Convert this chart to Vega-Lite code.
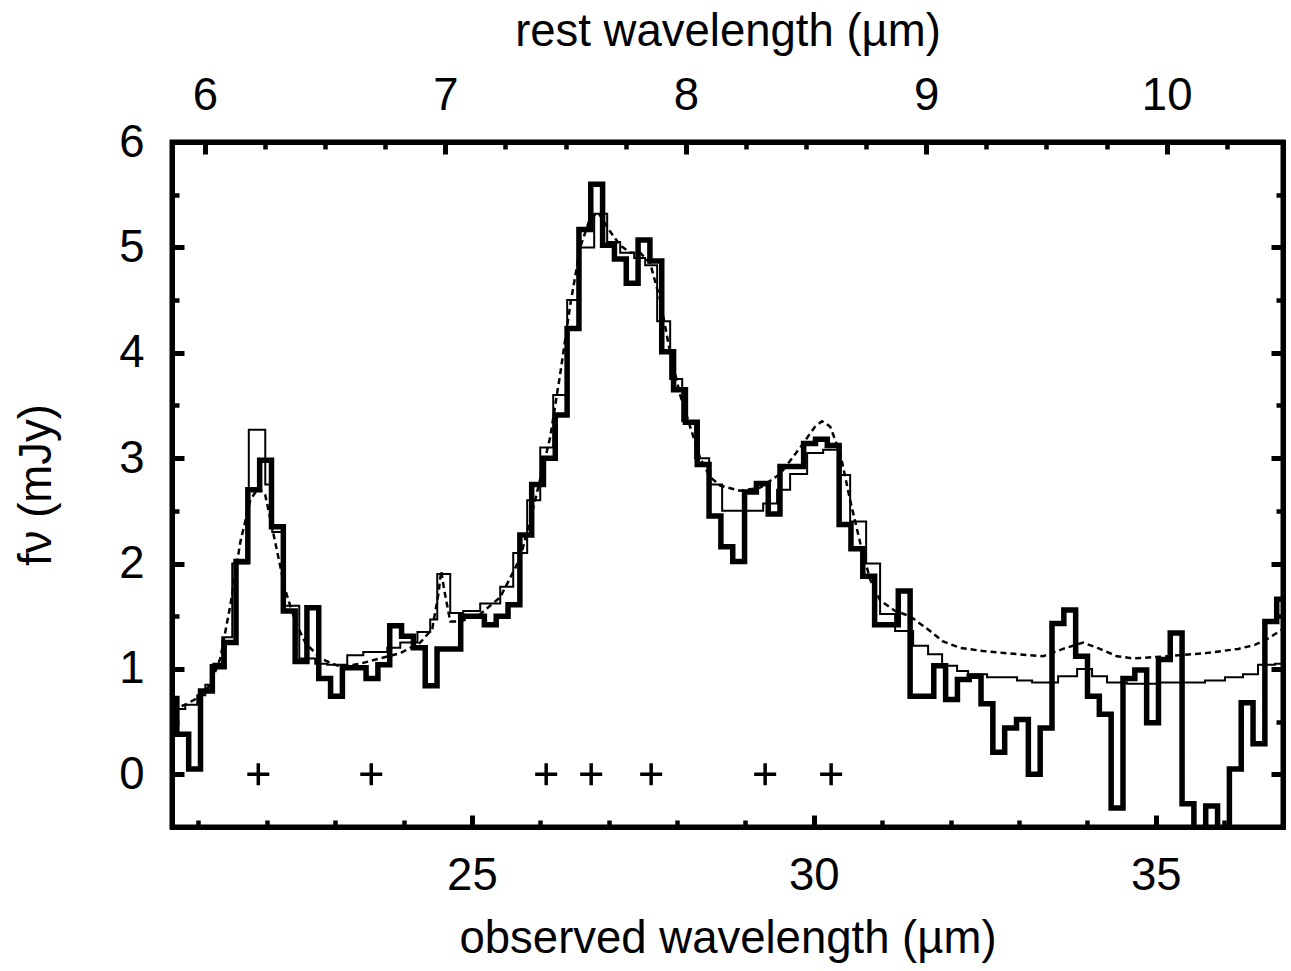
{
  "$schema": "https://vega.github.io/schema/vega-lite/v6.json",
  "width": 1111,
  "height": 685,
  "autosize": {"type": "none"},
  "padding": {"left": 172, "top": 142, "right": 8, "bottom": 144},
  "background": "white",
  "view": {"stroke": "black", "strokeWidth": 5},
  "config": {
    "view": {"stroke": "black", "strokeWidth": 5},
    "axis": {
      "domain": false,
      "grid": false,
      "tickColor": "black",
      "labelColor": "black",
      "titleColor": "black",
      "domainColor": "black",
      "domainWidth": 5,
      "domainCap": "square",
      "labelFont": "Liberation Sans",
      "titleFont": "Liberation Sans",
      "labelFontSize": 45.5,
      "titleFontSize": 45.5,
      "titleFontWeight": "normal"
    }
  },
  "datasets": {
    "thick": [
      {"w": 20.614, "f": 0.72}, {"w": 20.685, "f": 0.38}, {"w": 20.858, "f": 0.05}, {"w": 21.031, "f": 0.79},
      {"w": 21.204, "f": 1.02}, {"w": 21.377, "f": 1.25}, {"w": 21.55, "f": 2.02}, {"w": 21.723, "f": 2.7},
      {"w": 21.896, "f": 2.98}, {"w": 22.069, "f": 2.35}, {"w": 22.242, "f": 1.55}, {"w": 22.415, "f": 1.07},
      {"w": 22.587, "f": 1.58}, {"w": 22.76, "f": 0.91}, {"w": 22.933, "f": 0.74}, {"w": 23.106, "f": 1.01},
      {"w": 23.279, "f": 1.01}, {"w": 23.452, "f": 0.91}, {"w": 23.625, "f": 1.04}, {"w": 23.798, "f": 1.41},
      {"w": 23.971, "f": 1.31}, {"w": 24.144, "f": 1.2}, {"w": 24.317, "f": 0.84}, {"w": 24.49, "f": 1.19},
      {"w": 24.663, "f": 1.19}, {"w": 24.836, "f": 1.5}, {"w": 25.009, "f": 1.5}, {"w": 25.182, "f": 1.42},
      {"w": 25.355, "f": 1.5}, {"w": 25.528, "f": 1.61}, {"w": 25.701, "f": 2.27}, {"w": 25.874, "f": 2.75},
      {"w": 26.046, "f": 3.0}, {"w": 26.219, "f": 3.41}, {"w": 26.392, "f": 4.23}, {"w": 26.565, "f": 5.17},
      {"w": 26.738, "f": 5.6}, {"w": 26.911, "f": 5.02}, {"w": 27.084, "f": 4.89}, {"w": 27.257, "f": 4.66},
      {"w": 27.43, "f": 5.07}, {"w": 27.603, "f": 4.87}, {"w": 27.776, "f": 4.01}, {"w": 27.949, "f": 3.65},
      {"w": 28.122, "f": 3.34}, {"w": 28.295, "f": 2.94}, {"w": 28.468, "f": 2.45}, {"w": 28.641, "f": 2.16},
      {"w": 28.814, "f": 2.02}, {"w": 28.987, "f": 2.68}, {"w": 29.16, "f": 2.76}, {"w": 29.333, "f": 2.47},
      {"w": 29.505, "f": 2.92}, {"w": 29.678, "f": 2.92}, {"w": 29.851, "f": 3.14}, {"w": 30.024, "f": 3.18},
      {"w": 30.197, "f": 3.12}, {"w": 30.37, "f": 2.37}, {"w": 30.543, "f": 2.14}, {"w": 30.716, "f": 1.88},
      {"w": 30.889, "f": 1.42}, {"w": 31.062, "f": 1.42}, {"w": 31.235, "f": 1.74}, {"w": 31.408, "f": 0.74},
      {"w": 31.581, "f": 0.74}, {"w": 31.754, "f": 1.03}, {"w": 31.927, "f": 0.71}, {"w": 32.1, "f": 0.9},
      {"w": 32.272, "f": 0.93}, {"w": 32.445, "f": 0.67}, {"w": 32.618, "f": 0.21}, {"w": 32.791, "f": 0.44},
      {"w": 32.964, "f": 0.52}, {"w": 33.137, "f": 0.0}, {"w": 33.31, "f": 0.44}, {"w": 33.483, "f": 1.43},
      {"w": 33.656, "f": 1.56}, {"w": 33.829, "f": 1.12}, {"w": 34.002, "f": 0.74}, {"w": 34.175, "f": 0.57},
      {"w": 34.348, "f": -0.32}, {"w": 34.521, "f": 0.91}, {"w": 34.694, "f": 0.99}, {"w": 34.867, "f": 0.49},
      {"w": 35.04, "f": 1.09}, {"w": 35.212, "f": 1.34}, {"w": 35.385, "f": -0.28}, {"w": 35.558, "f": -0.6},
      {"w": 35.731, "f": -0.3}, {"w": 35.904, "f": -0.6}, {"w": 36.077, "f": 0.05}, {"w": 36.25, "f": 0.68},
      {"w": 36.423, "f": 0.29}, {"w": 36.596, "f": 1.45}, {"w": 36.769, "f": 1.66}, {"w": 36.861, "f": 1.66}
    ],
    "thin": [
      {"w": 20.614, "f": 0.62}, {"w": 20.808, "f": 0.66}, {"w": 20.984, "f": 0.75}, {"w": 21.101, "f": 0.85},
      {"w": 21.218, "f": 1.05}, {"w": 21.349, "f": 1.3}, {"w": 21.495, "f": 2.0}, {"w": 21.737, "f": 3.27},
      {"w": 21.978, "f": 2.75}, {"w": 22.08, "f": 2.3}, {"w": 22.241, "f": 1.6}, {"w": 22.475, "f": 1.1},
      {"w": 22.709, "f": 1.05}, {"w": 22.885, "f": 1.04}, {"w": 23.177, "f": 1.13}, {"w": 23.411, "f": 1.16},
      {"w": 23.762, "f": 1.2}, {"w": 23.952, "f": 1.25}, {"w": 24.203, "f": 1.35}, {"w": 24.39, "f": 1.47},
      {"w": 24.493, "f": 1.9}, {"w": 24.683, "f": 1.53}, {"w": 24.873, "f": 1.55}, {"w": 25.121, "f": 1.62},
      {"w": 25.414, "f": 1.78}, {"w": 25.604, "f": 2.1}, {"w": 25.808, "f": 2.6}, {"w": 25.999, "f": 3.1},
      {"w": 26.189, "f": 3.6}, {"w": 26.393, "f": 4.5}, {"w": 26.583, "f": 5.0}, {"w": 26.788, "f": 5.32},
      {"w": 26.978, "f": 5.05}, {"w": 27.168, "f": 4.95}, {"w": 27.373, "f": 4.9}, {"w": 27.534, "f": 4.83},
      {"w": 27.709, "f": 4.3}, {"w": 27.899, "f": 3.75}, {"w": 28.075, "f": 3.35}, {"w": 28.265, "f": 3.0},
      {"w": 28.469, "f": 2.75}, {"w": 28.659, "f": 2.5}, {"w": 28.864, "f": 2.5}, {"w": 29.069, "f": 2.5},
      {"w": 29.259, "f": 2.57}, {"w": 29.463, "f": 2.7}, {"w": 29.653, "f": 2.85}, {"w": 29.902, "f": 3.05},
      {"w": 30.136, "f": 3.08}, {"w": 30.355, "f": 2.84}, {"w": 30.531, "f": 2.4}, {"w": 30.765, "f": 2.0},
      {"w": 30.969, "f": 1.52}, {"w": 31.189, "f": 1.36}, {"w": 31.452, "f": 1.22}, {"w": 31.671, "f": 1.14},
      {"w": 31.876, "f": 1.03}, {"w": 32.095, "f": 0.98}, {"w": 32.256, "f": 0.95}, {"w": 32.534, "f": 0.92},
      {"w": 32.972, "f": 0.89}, {"w": 33.192, "f": 0.87}, {"w": 33.572, "f": 0.93}, {"w": 33.85, "f": 1.0},
      {"w": 34.069, "f": 0.93}, {"w": 34.288, "f": 0.87}, {"w": 34.58, "f": 0.86}, {"w": 35.063, "f": 0.87},
      {"w": 35.399, "f": 0.87}, {"w": 35.721, "f": 0.89}, {"w": 36.013, "f": 0.92}, {"w": 36.276, "f": 0.95},
      {"w": 36.496, "f": 1.04}, {"w": 36.744, "f": 1.05}, {"w": 36.861, "f": 1.05}
    ],
    "model": [
      {"w": 20.614, "f": 0.62}, {"w": 20.808, "f": 0.66}, {"w": 21.028, "f": 0.74}, {"w": 21.174, "f": 0.85},
      {"w": 21.32, "f": 1.1}, {"w": 21.466, "f": 1.6}, {"w": 21.612, "f": 2.2}, {"w": 21.758, "f": 2.6},
      {"w": 21.876, "f": 2.72}, {"w": 21.978, "f": 2.65}, {"w": 22.124, "f": 2.2}, {"w": 22.27, "f": 1.75},
      {"w": 22.416, "f": 1.45}, {"w": 22.563, "f": 1.25}, {"w": 22.782, "f": 1.1}, {"w": 23.074, "f": 1.02},
      {"w": 23.367, "f": 1.05}, {"w": 23.659, "f": 1.1}, {"w": 23.952, "f": 1.15}, {"w": 24.244, "f": 1.25},
      {"w": 24.42, "f": 1.38}, {"w": 24.507, "f": 1.7}, {"w": 24.551, "f": 1.93}, {"w": 24.595, "f": 1.75},
      {"w": 24.683, "f": 1.45}, {"w": 24.829, "f": 1.45}, {"w": 25.121, "f": 1.52}, {"w": 25.414, "f": 1.68},
      {"w": 25.706, "f": 2.05}, {"w": 25.925, "f": 2.6}, {"w": 26.145, "f": 3.2}, {"w": 26.291, "f": 3.8},
      {"w": 26.437, "f": 4.45}, {"w": 26.583, "f": 5.0}, {"w": 26.73, "f": 5.28}, {"w": 26.847, "f": 5.33},
      {"w": 27.022, "f": 5.15}, {"w": 27.168, "f": 5.02}, {"w": 27.314, "f": 4.95}, {"w": 27.461, "f": 4.95},
      {"w": 27.607, "f": 4.85}, {"w": 27.753, "f": 4.5}, {"w": 27.899, "f": 4.0}, {"w": 28.045, "f": 3.6},
      {"w": 28.191, "f": 3.3}, {"w": 28.338, "f": 3.0}, {"w": 28.484, "f": 2.82}, {"w": 28.63, "f": 2.74},
      {"w": 28.922, "f": 2.69}, {"w": 29.215, "f": 2.72}, {"w": 29.507, "f": 2.85}, {"w": 29.8, "f": 3.1},
      {"w": 30.019, "f": 3.3}, {"w": 30.121, "f": 3.35}, {"w": 30.238, "f": 3.3}, {"w": 30.385, "f": 3.05},
      {"w": 30.531, "f": 2.6}, {"w": 30.677, "f": 2.2}, {"w": 30.823, "f": 1.85}, {"w": 30.969, "f": 1.65},
      {"w": 31.189, "f": 1.55}, {"w": 31.408, "f": 1.5}, {"w": 31.7, "f": 1.36}, {"w": 31.89, "f": 1.26},
      {"w": 32.139, "f": 1.2}, {"w": 32.475, "f": 1.17}, {"w": 32.972, "f": 1.14}, {"w": 33.352, "f": 1.12},
      {"w": 33.644, "f": 1.19}, {"w": 33.937, "f": 1.25}, {"w": 34.185, "f": 1.19}, {"w": 34.434, "f": 1.12},
      {"w": 34.668, "f": 1.1}, {"w": 35.165, "f": 1.12}, {"w": 35.728, "f": 1.15}, {"w": 36.208, "f": 1.19},
      {"w": 36.456, "f": 1.23}, {"w": 36.646, "f": 1.29}, {"w": 36.861, "f": 1.38}
    ],
    "pah": [
      {"w": 21.876, "f": 0}, {"w": 23.528, "f": 0}, {"w": 26.086, "f": 0}, {"w": 26.744, "f": 0},
      {"w": 27.621, "f": 0}, {"w": 29.288, "f": 0}, {"w": 30.253, "f": 0}
    ]
  },
  "layer": [
    {
      "mark": {"type": "rule", "stroke": "black", "strokeWidth": 2, "strokeDash": [8, 12]},
      "encoding": {
        "y": {"datum": 0, "type": "quantitative", "scale": {"domain": [-0.5, 6], "nice": false, "zero": false}, "axis": null}
      }
    },
    {
      "data": {"name": "model"},
      "mark": {"type": "line", "stroke": "black", "strokeWidth": 2.5, "strokeDash": [6, 4], "clip": true},
      "encoding": {
        "x": {"field": "w", "type": "quantitative", "scale": {"domain": [20.614, 36.861], "nice": false, "zero": false},
          "axis": {"orient": "top", "domain": true, "values": [21.096, 24.612, 28.128, 31.644, 35.16], "labelExpr": "format(datum.value/3.516, '.0f')",
            "tickSize": -12, "tickWidth": 5, "labelPadding": 35, "title": "rest wavelength (µm)", "titlePadding": 18}},
        "y": {"field": "f", "type": "quantitative", "scale": {"domain": [-0.5, 6], "nice": false, "zero": false},
          "axis": {"orient": "right", "domain": true, "values": [0, 1, 2, 3, 4, 5, 6], "labels": false, "tickSize": -12, "tickWidth": 5, "title": null}}
      }
    },
    {
      "data": {"name": "thin"},
      "mark": {"type": "line", "interpolate": "step-after", "stroke": "black", "strokeWidth": 2, "clip": true},
      "encoding": {
        "x": {"field": "w", "type": "quantitative", "scale": {"domain": [20.614, 36.861], "nice": false, "zero": false},
          "axis": {"orient": "top", "values": [21.975, 22.854, 23.733, 25.491, 26.37, 27.249, 29.007, 29.886, 30.765, 32.523, 33.402, 34.281, 36.039],
            "labels": false, "tickSize": -7, "tickWidth": 4.5, "title": null}},
        "y": {"field": "f", "type": "quantitative", "scale": {"domain": [-0.5, 6], "nice": false, "zero": false},
          "axis": {"orient": "right", "values": [0.5, 1.5, 2.5, 3.5, 4.5, 5.5], "labels": false, "tickSize": -7, "tickWidth": 4.5, "title": null}}
      }
    },
    {
      "data": {"name": "thick"},
      "mark": {"type": "line", "interpolate": "step-after", "stroke": "black", "strokeWidth": 5.5, "clip": true},
      "encoding": {
        "x": {"field": "w", "type": "quantitative", "scale": {"domain": [20.614, 36.861], "nice": false, "zero": false},
          "axis": {"orient": "bottom", "domain": true, "values": [25, 30, 35], "tickSize": -12, "tickWidth": 5, "labelPadding": 38,
            "title": "observed wavelength (µm)", "titlePadding": 18}},
        "y": {"field": "f", "type": "quantitative", "scale": {"domain": [-0.5, 6], "nice": false, "zero": false},
          "axis": {"orient": "left", "domain": true, "values": [0, 1, 2, 3, 4, 5, 6], "tickSize": -12, "tickWidth": 5, "labelPadding": 40,
            "title": "fν (mJy)", "titlePadding": 58}}
      }
    },
    {
      "data": {"name": "pah"},
      "mark": {"type": "point", "shape": "M-1,0H1M0,-1V1", "size": 484, "filled": false, "stroke": "black", "strokeWidth": 3.5, "opacity": 1},
      "encoding": {
        "x": {"field": "w", "type": "quantitative", "scale": {"domain": [20.614, 36.861], "nice": false, "zero": false},
          "axis": {"orient": "bottom", "values": [21, 22, 23, 24, 26, 27, 28, 29, 31, 32, 33, 34, 36], "labels": false, "tickSize": -7, "tickWidth": 4.5, "title": null}},
        "y": {"field": "f", "type": "quantitative", "scale": {"domain": [-0.5, 6], "nice": false, "zero": false},
          "axis": {"orient": "left", "values": [0.5, 1.5, 2.5, 3.5, 4.5, 5.5], "labels": false, "tickSize": -7, "tickWidth": 4.5, "title": null}}
      }
    }
  ],
  "resolve": {"axis": {"x": "independent", "y": "independent"}}
}
